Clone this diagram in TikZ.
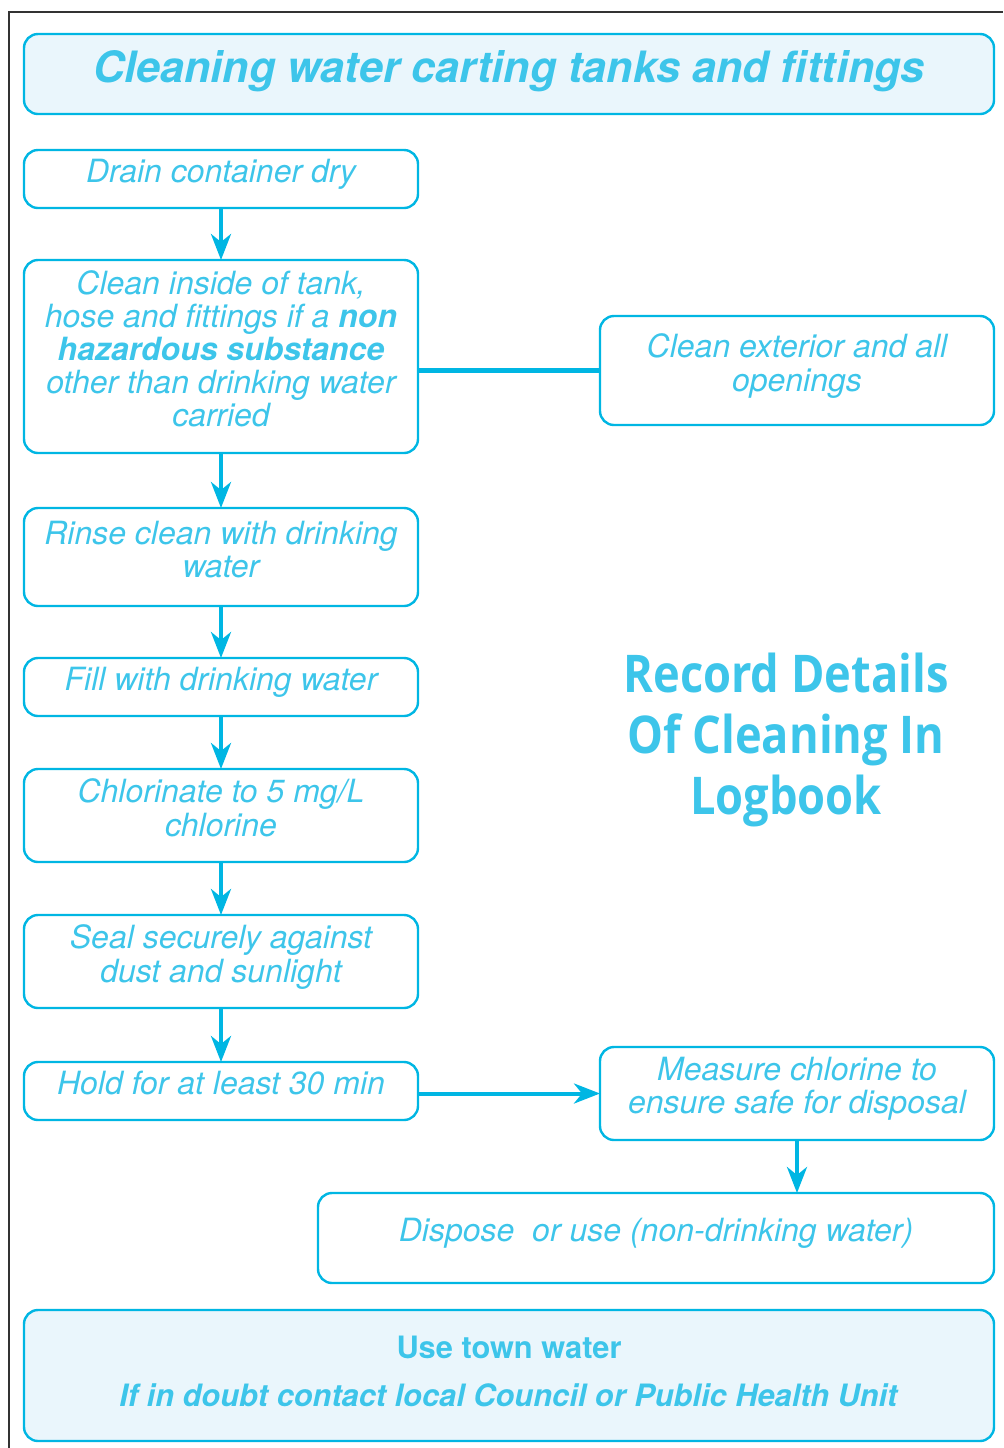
\documentclass[tikz,border=0pt]{standalone}
\usepackage{fontspec}
\setmainfont{TeX Gyre Heros}
\newfontfamily\recfont[FakeStretch=0.87]{Open Sans}
\usepackage{tikz}
\usetikzlibrary{positioning}
\usetikzlibrary{arrows.meta}
\definecolor{edge}{HTML}{00B6E3}
\definecolor{ink}{HTML}{3DC5EA}
\definecolor{pale}{HTML}{EAF6FC}

\begin{document}
\begin{tikzpicture}[x=0.5pt, y=-0.5pt,
    lift/.style = {execute at end node={\rule[-#1]{0pt}{0pt}}},
    card/.style = {draw=edge, line width=1.2pt, rounded corners=7pt, outer sep=0pt, minimum width=197pt, align=center, text=ink, inner sep=2pt, font=\fontsize{16}{16.6}\selectfont\itshape},
    task/.style = {card, lift=8pt},
    banner/.style = {card, fill=pale, minimum width=485pt},
    flow/.style = {draw=edge, line width=2pt, -{Stealth[length=13pt,width=10pt,inset=4pt]}},
    tie/.style = {draw=edge, line width=2.5pt}]
    \useasboundingbox (0,0) rectangle (1003,1448);
    \draw[line width=1pt, black!80] (9,1448) -- (9,12) -- (1003,12);
    \node[banner, lift=8pt, minimum height=40pt, font=\fontsize{21.6}{24}\selectfont\bfseries\itshape](title) at (509,74) {Cleaning water carting tanks and fittings};
    % left column
    \node[task, minimum height=29pt](drain) at (221,179) {Drain container dry};
    \node[task, minimum height=96.5pt](inside)[below=26pt of drain] {Clean inside of tank,\\hose and fittings if a \textbf{non}\\\textbf{hazardous substance}\\other than drinking water\\carried};
    \node[task, minimum height=49pt](rinse)[below=27.5pt of inside] {Rinse clean with drinking\\water};
    \node[task, minimum height=29pt](fill)[below=26pt of rinse] {Fill with drinking water};
    \node[task, minimum height=46.5pt](chlor)[below=26.5pt of fill] {Chlorinate to 5 mg/L\\chlorine};
    \node[task, minimum height=46.5pt](seal)[below=26.5pt of chlor] {Seal securely against\\dust and sunlight};
    \node[task, minimum height=29pt](hold)[below=27pt of seal] {Hold for at least 30 min};
    % right column
    \node[task, minimum height=54.5pt](outside) at (797,370.5) {Clean exterior and all\\openings};
    \node[task, minimum height=46.5pt](measure) at (797,1093.5) {Measure chlorine to\\ensure safe for disposal};
    \node[task, minimum width=338pt, minimum height=45pt](dispose) at (656,1238) {Dispose\ \ or use (non-drinking water)};
    \node[text=ink, align=center, font=\recfont\bfseries\fontsize{26}{30.5}\selectfont](record) at (786,740) {Record Details\\Of Cleaning In\\Logbook};
    \node[banner, lift=4pt, minimum height=65.5pt, font=\fontsize{15.4}{24}\selectfont\bfseries](town) at (509,1375.5) {Use town water\\\textit{If in doubt contact local Council or Public Health Unit}};
    % connectors
    \draw[flow] (drain) -- (inside);
    \draw[flow] (inside) -- (rinse);
    \draw[flow] (rinse) -- (fill);
    \draw[flow] (fill) -- (chlor);
    \draw[flow] (chlor) -- (seal);
    \draw[flow] (seal) -- (hold);
    \draw[tie] (outside.west -| inside.east) -- (outside.west);
    \draw[flow] (measure.west -| hold.east) -- (measure.west);
    \draw[flow] (measure.south) -- (measure.south |- dispose.north);
\end{tikzpicture}
\end{document}
